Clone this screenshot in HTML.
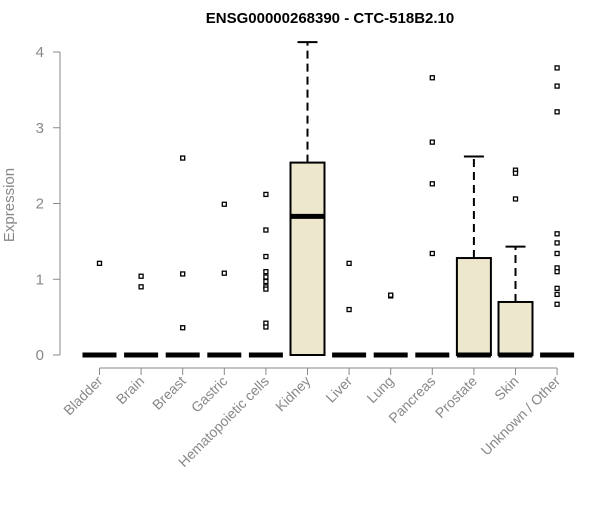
<!DOCTYPE html>
<html><head><meta charset="utf-8"><style>body{margin:0;background:#fff}svg{font-family:"Liberation Sans",sans-serif}</style></head>
<body>
<svg id="chart" width="600" height="500">
<text x="330" y="23" text-anchor="middle" font-weight="bold" font-size="15">ENSG00000268390 - CTC-518B2.10</text>
<text transform="translate(14,205) rotate(-90)" text-anchor="middle" font-size="15" fill="#888">Expression</text>
<g id="g"></g>
</svg>
<script>
const categories=["Bladder","Brain","Breast","Gastric","Hematopoietic cells","Kidney","Liver","Lung","Pancreas","Prostate","Skin","Unknown / Other"];
const q1=[0,0,0,0,0,0,0,0,0,0,0,0];
const medians=[0,0,0,0,0,1.83,0,0,0,0,0,0];
const q3=[0,0,0,0,0,2.54,0,0,0,1.28,0.70,0];
const whiskerHigh=[0,0,0,0,0,4.13,0,0,0,2.62,1.43,0];
const outliers=[[1.21],[1.04,0.9],[2.6,1.07,0.36],[1.99,1.08],[2.12,1.65,1.3,1.1,1.03,0.97,0.9,0.87,0.42,0.37],[],[1.21,0.6],[0.78,0.79],[3.66,2.81,2.26,1.34],[],[2.44,2.4,2.06],[3.79,3.55,3.21,1.6,1.48,1.34,1.15,1.1,0.88,0.8,0.67]];
const yTicks=[0,1,2,3,4];
const NS="http://www.w3.org/2000/svg";
const g=document.getElementById('g');
const y=v=>355-v*75.75;
const x=i=>99.5+i*41.6;
function mk(t,a){const e=document.createElementNS(NS,t);for(const k in a)e.setAttribute(k,a[k]);g.appendChild(e);return e;}
let e=mk('line',{x1:60,x2:60,y1:y(4),y2:y(0),stroke:'#888'});


yTicks.forEach(t=>{
 let l=mk('line',{x1:53,x2:60,y1:y(t),y2:y(t),stroke:'#888'});
 
 
 let tx=mk('text',{x:44,y:y(t)+5,'text-anchor':'end','font-size':15,fill:'#888'});
 tx.textContent=t;
 
 
});
e=mk('line',{x1:x(0),x2:x(11),y1:368,y2:368,stroke:'#888'});


categories.forEach((c,i)=>{
 const cx=x(i),hw=17;
 let t=mk('line',{x1:cx,x2:cx,y1:368,y2:375,stroke:'#888'});
 
 
 let lb=mk('text',{transform:`translate(${cx+4},${382}) rotate(-45)`,'text-anchor':'end','font-size':14,fill:'#888'});
 lb.textContent=c;
 
 
 if(whiskerHigh[i]>q3[i]){
  let w=mk('line',{x1:cx,x2:cx,y1:y(q3[i]),y2:y(whiskerHigh[i]),stroke:'#000','stroke-width':2,'stroke-dasharray':'8,5'});
  
  
  let cap=mk('line',{x1:cx-10,x2:cx+10,y1:y(whiskerHigh[i]),y2:y(whiskerHigh[i]),stroke:'#000','stroke-width':2});
  
  
 }
 if(q3[i]>q1[i]){
  let b=mk('rect',{x:cx-hw,y:y(q3[i]),width:hw*2,height:y(q1[i])-y(q3[i]),fill:'#ede7cd',stroke:'#000','stroke-width':2});
  
  
 }
 let m=mk('line',{x1:cx-hw,x2:cx+hw,y1:y(medians[i]),y2:y(medians[i]),stroke:'#000','stroke-width':5});
 
 
 outliers[i].forEach(v=>{
  let p=mk('rect',{x:cx-2,y:y(v)-2,width:4,height:4,fill:'#fff',stroke:'#000','stroke-width':1.3});
  
  
 });
});
</script>
</body></html>
